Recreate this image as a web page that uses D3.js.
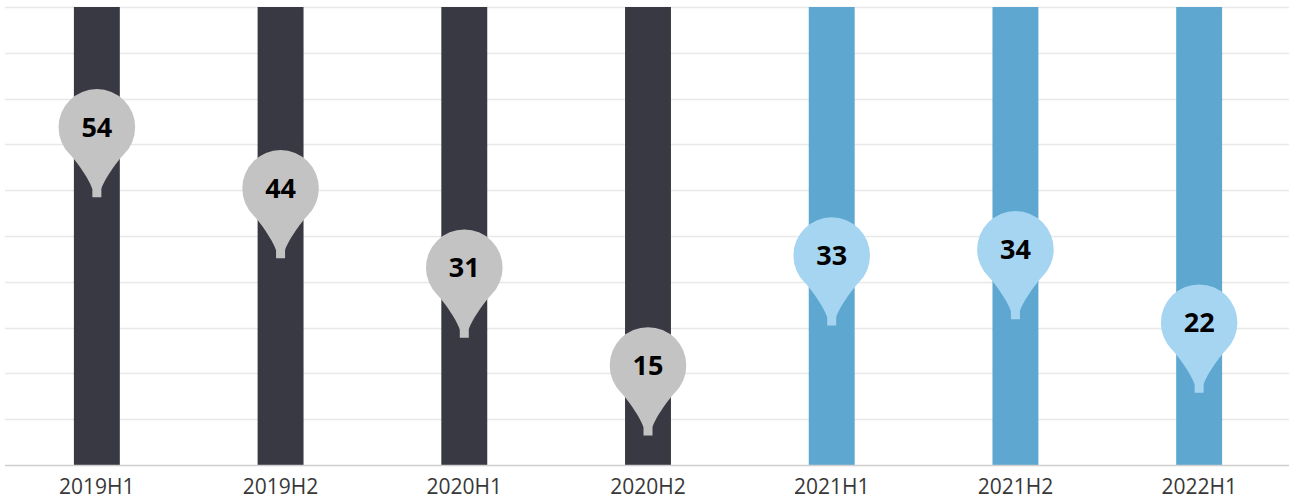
<!DOCTYPE html>
<html>
<head>
<meta charset="utf-8">
<script src="https://cdn.jsdelivr.net/npm/d3@7"></script>
<style>
  html, body { margin: 0; padding: 0; background: #fff; }
  svg { display: block; }
</style>
</head>
<body>
<svg id="chart" width="1289" height="500"></svg>
<script>
// Half-year periods and their values
const periods = ["2019H1", "2019H2", "2020H1", "2020H2", "2021H1", "2021H2", "2022H1"];
const values = [54, 44, 31, 15, 33, 34, 22];
// Periods drawn in the blue palette
const recentPeriods = ["2021H1", "2021H2", "2022H1"];

const yMax = 75;
const gridSteps = 10;

const W = 1289, H = 500;
const margin = { top: 7, right: -2, bottom: 35, left: 5 };

const svg = d3.select("#chart");

const x = d3.scaleBand()
  .domain(periods)
  .range([margin.left, W - margin.right])
  .paddingInner(0.75)
  .paddingOuter(0.375);

const y = d3.scaleLinear()
  .domain([0, yMax])
  .range([H - margin.bottom, margin.top]);

const isRecent = p => recentPeriods.includes(p);
const barColor = p => isRecent(p) ? "#5ea7d1" : "#393943";
const pinColor = p => isRecent(p) ? "#a6d5f2" : "#c3c3c3";

// Horizontal grid
const gridValues = d3.range(1, gridSteps + 1).map(i => yMax * i / gridSteps);
svg.append("g")
  .selectAll("line")
  .data(gridValues)
  .join("line")
  .attr("x1", margin.left)
  .attr("x2", W)
  .attr("y1", d => Math.round(y(d)) + 0.5)
  .attr("y2", d => Math.round(y(d)) + 0.5)
  .attr("stroke", "#e8e8e8")
  .attr("stroke-width", 1.3);

// Full-height column behind each pin
svg.append("g")
  .selectAll("rect")
  .data(periods)
  .join("rect")
  .attr("x", d => x(d))
  .attr("width", x.bandwidth())
  .attr("y", y(yMax))
  .attr("height", y(0) - y(yMax))
  .attr("fill", d => barColor(d));

// Baseline axis with category labels
const xAxis = svg.append("g")
  .attr("transform", `translate(0,${y(0)})`)
  .call(d3.axisBottom(x).tickSize(0).tickPadding(0));
xAxis.select(".domain")
  .attr("d", `M${margin.left},0.5H${W}`)
  .attr("stroke", "#cfcfcf")
  .attr("stroke-width", 1.6);
xAxis.selectAll(".tick text")
  .attr("y", 29)
  .attr("dy", 0)
  .attr("fill", "#383838")
  .style("font-family", "'Open Sans', sans-serif")
  .style("font-size", "21px")
  .style("font-weight", 400);

// Map-pin marker: round head with a tapering stem below it
const r = 38.3;
const headLift = 8;   // head centre sits slightly above the value point
function pinPath() {
  const j = 27.1;      // where the stem leaves the circle
  const sw = 4.5;      // half width of the stem end
  return [
    `M${-j},${j}`,
    `A${r},${r} 0 1 1 ${j},${j}`,
    `C20,34 6,55 ${sw},62`,
    `L${sw},70`,
    `L${-sw},70`,
    `L${-sw},62`,
    `C-6,55 -20,34 ${-j},${j}`,
    "Z"
  ].join("");
}

const pins = svg.append("g")
  .selectAll("g")
  .data(periods.map((p, i) => ({ period: p, value: values[i] })))
  .join("g")
  .attr("transform", d => `translate(${x(d.period) + x.bandwidth() / 2},${y(d.value) - headLift})`);

pins.append("path")
  .attr("d", pinPath())
  .attr("fill", d => pinColor(d.period));

pins.append("text")
  .attr("text-anchor", "middle")
  .attr("y", 9.6)
  .attr("fill", "#000")
  .style("font-family", "'Open Sans', sans-serif")
  .style("font-size", "27px")
  .style("font-weight", 700)
  .text(d => d.value);
</script>
</body>
</html>
